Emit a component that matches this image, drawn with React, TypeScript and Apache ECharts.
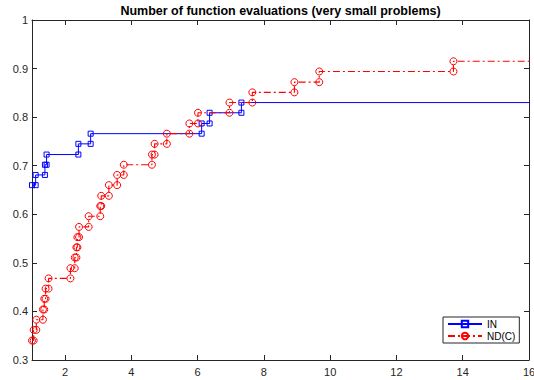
import React, { useEffect, useRef } from "react";
import * as echarts from "echarts";

const TITLE = "Number of function evaluations (very small problems)";
const xTicks = [2, 4, 6, 8, 10, 12, 14, 16];
const seriesNames = ["IN", "ND(C)"];

// performance ratios at which each profile steps up, and the fraction reached there
const inRatios = [1.0, 1.11, 1.39, 1.44, 2.4, 2.77, 6.12, 6.36, 7.32];
const inFractions = [0.66, 0.681, 0.702, 0.723, 0.745, 0.766, 0.787, 0.809, 0.83];

const ndRatios = [
  1.0, 1.05, 1.13, 1.33, 1.37, 1.41, 1.5, 2.16, 2.29, 2.34, 2.37, 2.42, 2.71, 3.06,
  3.09, 3.32, 3.57, 3.77, 4.62, 4.7, 5.07, 5.75, 6.01, 6.96, 7.65, 8.92, 9.67, 13.72,
];
const ndFractions = [
  0.34, 0.362, 0.383, 0.404, 0.426, 0.447, 0.468, 0.489, 0.511, 0.532, 0.553, 0.574,
  0.596, 0.617, 0.638, 0.66, 0.681, 0.702, 0.723, 0.745, 0.766, 0.787, 0.809, 0.83,
  0.851, 0.872, 0.894, 0.915,
];
// failed problems are placed beyond the axis range (as in perf.m)
const failRatio = 20;

function stairs(ratios: number[], fracs: number[], end: number): number[][] {
  const pts: number[][] = [];
  for (let i = 0; i < ratios.length; i++) {
    pts.push([ratios[i], fracs[i]]);
    const next = i < ratios.length - 1 ? ratios[i + 1] : end;
    pts.push([next, fracs[i]]);
  }
  return pts;
}

export default function App() {
  const ref = useRef<HTMLDivElement>(null);
  useEffect(() => {
    const chart = echarts.init(ref.current!, null, { renderer: "svg" });
    const axisColor = "#262626";
    const font = "'Liberation Sans', Arial, Helvetica, sans-serif";
    const gridLeft = 32;
    const gridRight = 5;
    const xAxisCommon = {
      type: "value",
      min: 1,
      max: 16,
      axisLine: { show: true, onZero: false, lineStyle: { color: axisColor, width: 1 } },
      axisTick: {
        show: true,
        inside: true,
        length: 5,
        customValues: xTicks,
        lineStyle: { color: axisColor, width: 1 },
      },
      splitLine: { show: false },
    };
    const yAxisCommon = {
      type: "value",
      min: 0.3,
      max: 1,
      interval: 0.1,
      axisLine: { show: true, onZero: false, lineStyle: { color: axisColor, width: 1 } },
      axisTick: { show: true, inside: true, length: 5, lineStyle: { color: axisColor, width: 1 } },
      splitLine: { show: false },
    };
    chart.setOption({
      animation: false,
      backgroundColor: "#ffffff",
      textStyle: { fontFamily: font },
      grid: {
        left: gridLeft,
        right: gridRight,
        top: 20,
        bottom: 20,
        containLabel: false,
        outerBoundsMode: "none",
      },
      graphic: [
        {
          type: "text",
          x: gridLeft + (534 - gridLeft - gridRight) / 2,
          y: 11,
          style: {
            text: TITLE,
            fill: "#000",
            font: `bold 12.5px ${font}`,
            align: "center",
            verticalAlign: "middle",
          },
        },
      ],
      xAxis: [
        {
          ...xAxisCommon,
          position: "bottom",
          axisLabel: {
            show: true,
            customValues: xTicks,
            margin: 6,
            color: axisColor,
            fontSize: 11,
            fontFamily: font,
          },
        },
        { ...xAxisCommon, position: "top", axisLabel: { show: false } },
      ],
      yAxis: [
        {
          ...yAxisCommon,
          position: "left",
          axisLabel: {
            show: true,
            margin: 4,
            color: axisColor,
            fontSize: 11,
            fontFamily: font,
            formatter: (v: number) => String(Math.round(v * 10) / 10),
          },
        },
        { ...yAxisCommon, position: "right", axisLabel: { show: false } },
      ],
      legend: {
        data: seriesNames,
        orient: "vertical",
        left: 443,
        top: 317,
        padding: [2, 4, 2, 4],
        itemGap: 2,
        itemWidth: 34,
        itemHeight: 8,
        backgroundColor: "#ffffff",
        borderColor: axisColor,
        borderWidth: 1,
        borderRadius: 0,
        textStyle: { fontSize: 10, color: "#000", fontFamily: font, lineHeight: 10 },
      },
      series: [
        {
          name: seriesNames[0],
          type: "line",
          xAxisIndex: 0,
          yAxisIndex: 0,
          data: stairs(inRatios, inFractions, failRatio),
          symbol: "rect",
          symbolSize: 5,
          showAllSymbol: true,
          clip: true,
          itemStyle: { color: "rgba(255,255,255,0)", borderColor: "#0000ff", borderWidth: 1 },
          lineStyle: { color: "#0000ff", width: 1 },
          z: 2,
        },
        {
          name: seriesNames[1],
          type: "line",
          xAxisIndex: 0,
          yAxisIndex: 0,
          data: stairs(ndRatios, ndFractions, failRatio),
          symbol: "circle",
          symbolSize: 7,
          showAllSymbol: true,
          clip: true,
          itemStyle: { color: "rgba(255,255,255,0)", borderColor: "#ff0000", borderWidth: 1 },
          lineStyle: { color: "#ff0000", width: 1.1, type: [7, 3, 2, 3] },
          z: 3,
        },
      ],
    });
    return () => chart.dispose();
  }, []);
  return (
    <div
      ref={ref}
      style={{ position: "fixed", left: 0, top: 0, width: 534, height: 380 }}
    />
  );
}
